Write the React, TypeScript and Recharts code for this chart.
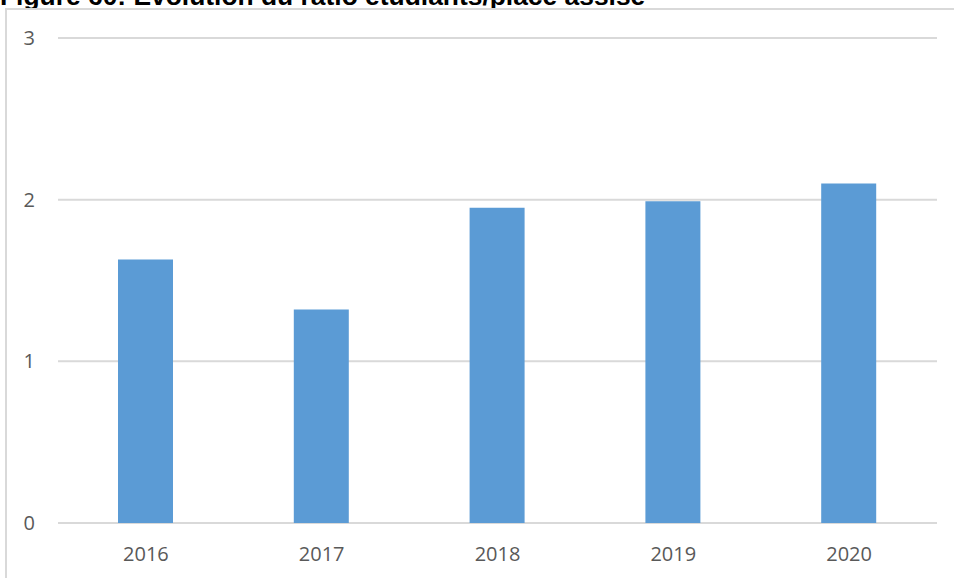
import React from "react";
import { BarChart, Bar, XAxis, YAxis, CartesianGrid } from "recharts";

// Ratio étudiants / place assise, par année
const years = ["2016", "2017", "2018", "2019", "2020"];
const ratios = [1.63, 1.32, 1.95, 1.99, 2.1];
const yTicks = [0, 1, 2, 3];

const data = years.map((year, i) => ({ year, ratio: ratios[i] }));

const tickFont = {
  fontFamily: "'Open Sans', sans-serif",
  fontSize: 20,
  fill: "#595959",
};

export default function App() {
  return (
    <div style={{ position: "relative", width: 954, height: 578, overflow: "hidden", background: "#fff" }}>
      <style>{`body{margin:0}`}</style>
      {/* caption sits above the frame, mostly clipped by the page top */}
      <div
        style={{
          position: "absolute",
          left: 0,
          top: -17,
          fontFamily: "'Liberation Sans', Arial, sans-serif",
          fontWeight: "bold",
          fontSize: 26.4,
          lineHeight: 1,
          whiteSpace: "nowrap",
          color: "#000",
        }}
      >
        Figure 60: Évolution du ratio étudiants/place assise
      </div>
      {/* chart frame */}
      <div
        style={{
          position: "absolute",
          left: 5,
          top: 8,
          width: 1000,
          height: 600,
          border: "2px solid #D9D9D9",
          boxSizing: "border-box",
        }}
      />
      <div style={{ position: "absolute", left: 0, top: 0 }}>
        <BarChart
          width={954}
          height={578}
          data={data}
          margin={{ top: 38, right: 17, bottom: 0, left: 0 }}
        >
          <CartesianGrid vertical={false} stroke="#D9D9D9" strokeWidth={2} />
          <XAxis
            dataKey="year"
            height={55}
            axisLine={false}
            tickLine={false}
            tickSize={0}
            tickMargin={24}
            tick={tickFont}
          />
          <YAxis
            width={58}
            domain={[0, 3]}
            ticks={yTicks}
            axisLine={false}
            tickLine={false}
            tickSize={0}
            tickMargin={23}
            tick={tickFont}
          />
          <Bar dataKey="ratio" fill="#5B9BD5" barSize={55} isAnimationActive={false} />
        </BarChart>
      </div>
    </div>
  );
}
